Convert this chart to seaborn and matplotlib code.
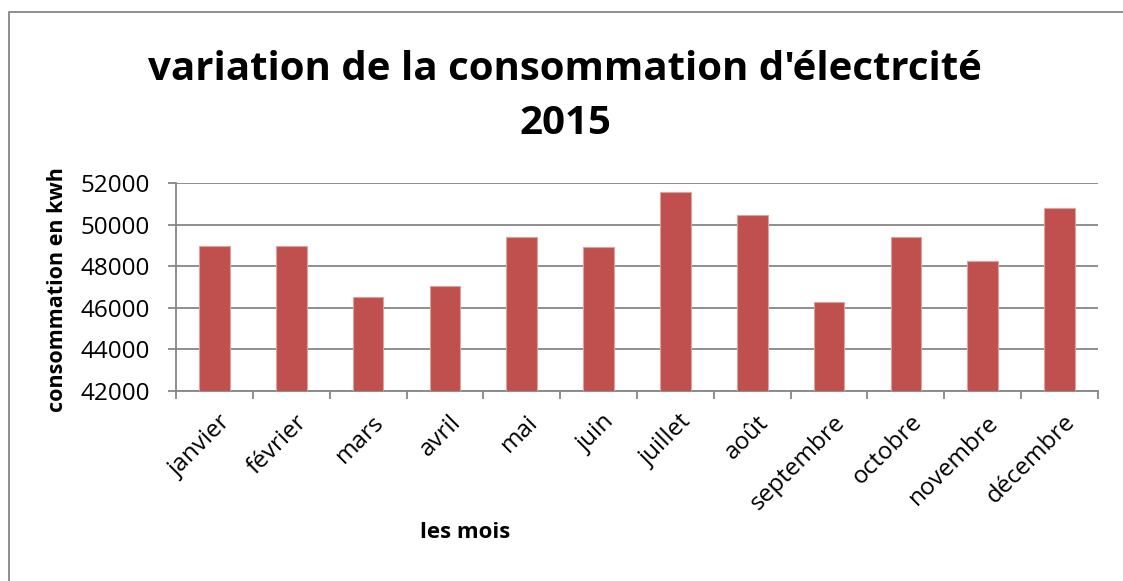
import matplotlib
matplotlib.use("Agg")
import matplotlib.pyplot as plt
import matplotlib.transforms as mtransforms
import seaborn as sns
import pandas as pd
from matplotlib.patches import Rectangle
from matplotlib.ticker import FixedLocator, NullFormatter

months = ["janvier", "février", "mars", "avril", "mai", "juin", "juillet",
          "août", "septembre", "octobre", "novembre", "décembre"]
consumption = [48960, 48960, 46520, 47050, 49420, 48930, 51580,
               50440, 46260, 49410, 48250, 50810]
yticks = [42000, 44000, 46000, 48000, 50000, 52000]

df = pd.DataFrame({"mois": months, "conso": consumption})

sns.set_theme(style="white")
plt.rcParams['font.family'] = ['Open Sans', 'DejaVu Sans']
plt.rcParams['text.color'] = 'black'

fig = plt.figure(figsize=(11.23, 5.81), dpi=100)
ax = fig.add_axes([176/1123, 1 - 391/581, (1098-176)/1123, (391-183)/581])

sns.barplot(data=df, x="mois", y="conso", color="#C0504D", width=0.4,
            saturation=1, edgecolor="#D9A3A1", linewidth=0.8, ax=ax, zorder=3)

ax.set_ylim(42000, 52000)
ax.set_xlim(-0.5, 11.5)
ax.set_yticks(yticks)
ax.set_yticklabels([str(v) for v in yticks], fontsize=17.5, color="black")
ax.yaxis.grid(True, color="#868686", linewidth=1.3, zorder=0)
ax.set_axisbelow(True)

for s in ["top", "right"]:
    ax.spines[s].set_visible(False)
for s in ["left", "bottom"]:
    ax.spines[s].set_color("#868686")
    ax.spines[s].set_linewidth(1.3)

ax.tick_params(axis="y", which="major", length=6, width=1.3, color="#868686",
               left=True, pad=13)
ax.set_xticks(range(len(months)))
ax.set_xticklabels(months, rotation=45, ha="right", va="top",
                   rotation_mode="anchor", fontsize=17.5, color="black")
ax.tick_params(axis="x", which="major", length=0, pad=14)
offset = mtransforms.ScaledTranslation(4/100, 0, fig.dpi_scale_trans)
for lbl in ax.get_xticklabels():
    lbl.set_transform(lbl.get_transform() + offset)
ax.xaxis.set_minor_locator(FixedLocator([i - 0.5 for i in range(len(months) + 1)]))
ax.xaxis.set_minor_formatter(NullFormatter())
ax.tick_params(axis="x", which="minor", length=6, width=1.3, color="#868686",
               bottom=True)

ax.set_xlabel("")
ax.set_ylabel("")
fig.text(58/1123, 1 - 290/581, "consommation en kwh", fontsize=15.5,
         fontweight="bold", rotation=90, ha="center", va="center")
fig.text(465/1123, 1 - 533/581, "les mois", fontsize=16, fontweight="bold",
         ha="center", va="center")

fig.text(565/1123, 1 - 70/581, "variation de la consommation d'électrcité",
         fontsize=29, fontweight="bold", ha="center", va="center")
fig.text(565/1123, 1 - 123/581, "2015",
         fontsize=29, fontweight="bold", ha="center", va="center")

fig.patches.append(Rectangle((9/1123, -0.1), 1.2, 1 - 12/581 + 0.1,
                             transform=fig.transFigure, fill=False,
                             edgecolor="#868686", linewidth=1.3))

fig.savefig("out.png", dpi=100)
